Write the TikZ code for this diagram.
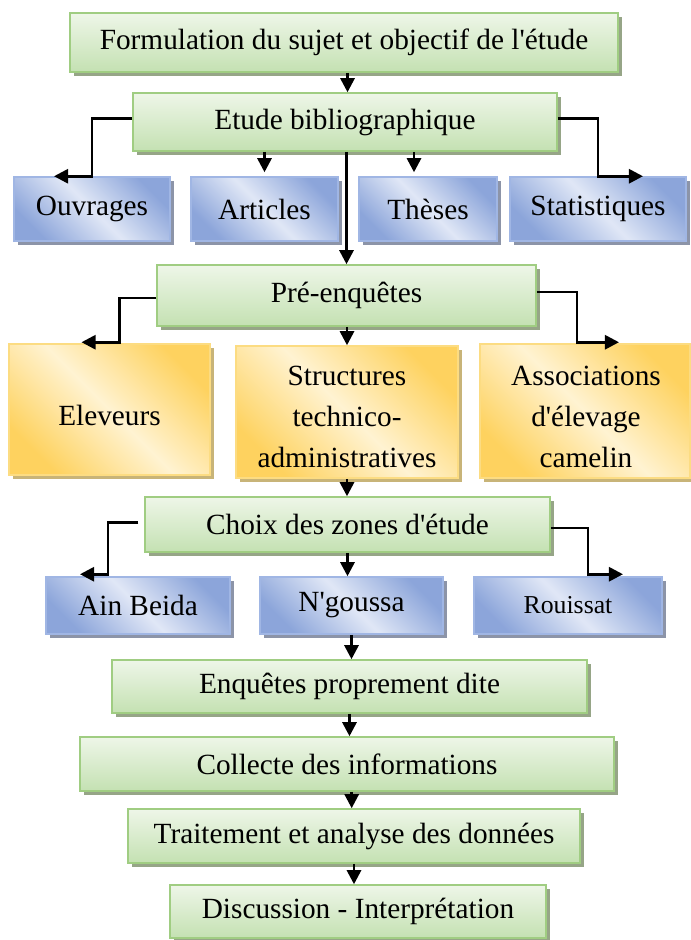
\documentclass[tikz,border=0pt]{standalone}
\usepackage{fontspec}
\setmainfont{Liberation Serif}
\usetikzlibrary{arrows.meta, calc, shadows}
\definecolor{GreenTop}{RGB}{238,246,232}
\definecolor{GreenBot}{RGB}{196,225,178}
\definecolor{GreenLine}{RGB}{160,205,130}
\definecolor{GreenShadow}{RGB}{150,165,135}
\definecolor{BlueDark}{RGB}{140,165,218}
\definecolor{BlueLight}{RGB}{224,231,246}
\definecolor{BlueLine}{RGB}{160,182,228}
\definecolor{BlueShadow}{RGB}{140,148,168}
\definecolor{GoldDark}{RGB}{254,210,95}
\definecolor{GoldLight}{RGB}{255,243,210}
\definecolor{GoldLine}{RGB}{252,220,130}
\definecolor{GoldShadow}{RGB}{200,180,120}
\newcommand{\q}{\textquotesingle}

\begin{document}
\begin{tikzpicture}[x=0.03cm, y=-0.03cm,
    box/.style={draw, line width=1.3pt, inner sep=2pt, align=center,
      font=\fontsize{25}{35}\selectfont},
    greenbox/.style={box, draw=GreenLine, top color=GreenTop, bottom color=GreenBot,
      drop shadow={shadow xshift=3.5pt, shadow yshift=-3.5pt, fill=GreenShadow, opacity=1}},
    bluebox/.style={box, draw=BlueLine, top color=BlueDark, bottom color=BlueDark,
      middle color=BlueLight, shading angle=-45,
      drop shadow={shadow xshift=3.5pt, shadow yshift=-3.5pt, fill=BlueShadow, opacity=1}},
    goldbox/.style={box, draw=GoldLine, top color=GoldDark, bottom color=GoldDark,
      middle color=GoldLight, shading angle=-45,
      drop shadow={shadow xshift=3.5pt, shadow yshift=-3.5pt, fill=GoldShadow, opacity=1}},
    goldtext/.style={align=center, inner sep=0pt, font=\fontsize{25}{35}\selectfont},
    arr/.style={line width=2.3pt, -{Triangle[length=12pt,width=12pt]}}]
  \useasboundingbox (0,0) rectangle (690,940);

  % etapes
  \node[greenbox, minimum width=16.44cm, minimum height=1.77cm] (form) at (344,42.5)
    {Formulation du sujet et objectif de l\q étude};
  \node[greenbox, minimum width=12.72cm, minimum height=1.74cm] (biblio) at (345,122)
    {Etude bibliographique};
  \node[bluebox, minimum width=4.68cm, minimum height=1.92cm] (ouvr) at (92,209) {Ouvrages};
  \node[bluebox, minimum width=4.41cm, minimum height=1.92cm] (artic) at (264.5,209) {Articles};
  \node[bluebox, minimum width=4.14cm, minimum height=1.92cm] (theses) at (428,209) {Thèses};
  \node[bluebox, minimum width=5.28cm, minimum height=1.92cm] (stats) at (598,209) {Statistiques};

  \node[greenbox, minimum width=11.37cm, minimum height=1.83cm] (pre) at (346.5,295.5)
    {Pré-enquêtes};
  \node[goldbox, minimum width=6.03cm, minimum height=3.93cm] (elev) at (109.5,409.5) {};
  \node[goldtext] (elevtxt) at ($(elev)+(0,6)$) {Eleveurs};
  \node[goldbox, minimum width=6.66cm, minimum height=3.96cm] (struct) at (347,412) {};
  \begin{scope}
    \clip ($(struct.north west)+(2,2)$) rectangle ($(struct.south east)+(-2,-11)$);
    \node[goldtext, anchor=north] (structtxt) at ($(struct.north)+(0,21)$)
      {Structures\\technico-\\administratives};
  \end{scope}
  \node[goldbox, minimum width=6.3cm, minimum height=4.02cm] (assoc) at (585,411) {};
  \node[goldtext] (assoctxt) at ($(assoc)+(1,6)$) {Associations\\d\q élevage\\camelin};

  \node[greenbox, minimum width=12.15cm, minimum height=1.65cm] (choix) at (347.5,524.5)
    {Choix des zones d\q étude};
  \node[bluebox, minimum width=5.52cm, minimum height=1.71cm] (ain) at (138,605.5) {Ain Beida};
  \node[bluebox, minimum width=5.49cm, minimum height=1.71cm] (ngou) at (351.5,605.5) {N\q goussa};
  \node[bluebox, minimum width=5.64cm, minimum height=1.71cm, font=\fontsize{22}{30}\selectfont]
    (rouis) at (568,605.5) {Rouissat};

  \node[greenbox, minimum width=14.25cm, minimum height=1.59cm] (enq) at (349.5,686.5)
    {Enquêtes proprement dite};
  \node[greenbox, minimum width=16.02cm, minimum height=1.62cm] (coll) at (347,764)
    {Collecte des informations};
  \node[greenbox, minimum width=13.56cm, minimum height=1.62cm] (trait) at (354,836)
    {Traitement et analyse des données};
  \node[greenbox, minimum width=11.28cm, minimum height=1.59cm] (disc) at (358,911.5)
    {Discussion - Interprétation};

  % fleches
  \draw[arr] ([xshift=3pt]form.south) -- ([xshift=3pt]form.south |- biblio.north);
  \draw[arr] ([yshift=3pt]biblio.west) -| (ouvr.north) -- ++(-38,0);
  \draw[arr] ([yshift=3pt]biblio.east) -| (stats.north) -- ++(45,0);
  \coordinate (artTip) at ($(artic.north)+(0,-4)$);
  \draw[arr] (artTip |- biblio.south) -- (artTip);
  \coordinate (thesTip) at ($(theses.north)+(-14,-4)$);
  \draw[arr] (thesTip |- biblio.south) -- (thesTip);
  \draw[arr] (pre.north |- biblio.south) -- (pre.north);

  \coordinate (elevTurn) at ($(elev.north)+(10,-1)$);
  \draw[arr] ([yshift=-2pt]pre.west) -| (elevTurn) -- ++(-38,0);
  \coordinate (assocTurn) at ($(assoc.north)+(-8,-1)$);
  \draw[arr] ([yshift=3pt]pre.east) -| (assocTurn) -- ++(42,0);
  \draw[arr] (struct.north |- pre.south) -- (struct.north);
  \draw[arr] (struct.south) -- (struct.south |- choix.north);

  \coordinate (ainTurn) at ($(ain.north)+(-30,-2)$);
  \draw[arr] ([xshift=-5pt, yshift=2pt]choix.west) -| (ainTurn) -- ++(-28,0);
  \coordinate (rouisTurn) at ($(rouis.north)+(20,-2)$);
  \draw[arr] ([yshift=-3pt]choix.east) -| (rouisTurn) -- ++(35,0);
  \draw[arr] (choix.south) -- (choix.south |- ngou.north);

  \draw[arr] (ngou.south) -- (ngou.south |- enq.north);
  \draw[arr] (enq.south) -- (enq.south |- coll.north);
  \draw[arr] ([xshift=4pt]coll.south) -- ([xshift=4pt]coll.south |- trait.north);
  \draw[arr] (trait.south) -- (trait.south |- disc.north);
\end{tikzpicture}
\end{document}
